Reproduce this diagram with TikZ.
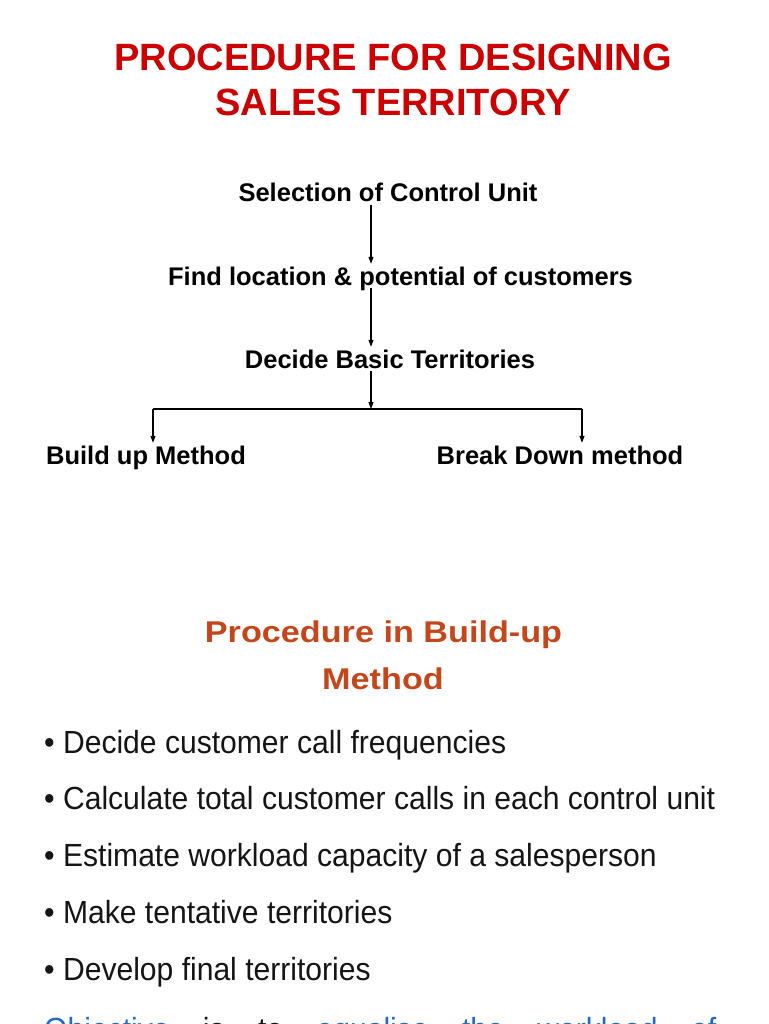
\documentclass[tikz,border=0pt]{standalone}
\usepackage{fontspec}
\setmainfont{Liberation Sans}
\newfontfamily\headfont{Liberation Sans}[FakeStretch=1.14]
\newfontfamily\listfont{Liberation Sans}[FakeStretch=0.94]
\usetikzlibrary{arrows.meta, positioning}
\definecolor{titlered}{HTML}{CC0000}
\definecolor{headorange}{HTML}{C4461B}
\definecolor{objblue}{HTML}{2468C4}
\definecolor{listgray}{HTML}{151515}

\begin{document}
\begin{tikzpicture}[
		x=1pt, y=-1pt,
		>={Triangle[length=7pt, width=5pt]},
		title/.style={anchor=base, inner sep=0pt, text=titlered,
			font=\fontsize{38}{45}\selectfont\bfseries},
		flow/.style={anchor=base, inner sep=3pt, text height=18pt, text depth=0pt,
			font=\fontsize{25.5}{30}\selectfont\bfseries},
		head/.style={anchor=base, inner sep=0pt, text=headorange,
			font=\headfont\fontsize{30}{36}\selectfont\bfseries},
		item/.style={anchor=base west, inner sep=0pt, text=listgray,
			font=\listfont\fontsize{32}{38}\selectfont},
		link/.style={->, line width=1.1pt}
		]

		\useasboundingbox (0,0) rectangle (768,1024);
		\clip (0,0) rectangle (768,1024);

		\node[title] (title1) at (393,71) {PROCEDURE FOR DESIGNING};
		\node[title] (title2) at (393,116) {SALES TERRITORY};

		\node[flow] (sel) at (388,202) {Selection of Control Unit};
		\node[flow] (find) at (400.5,285) {Find location \& potential of customers};
		\node[flow] (decide) at (390,368) {Decide Basic Territories};
		\node[flow] (build) at (146,464) {Build up Method};
		\node[flow] (brk) at (560,464) {Break Down method};

		\coordinate (spine) at (371,409);
		\coordinate (lft) at (153,409);
		\coordinate (rgt) at (582,409);

		\foreach \a/\b in {sel/find, decide/spine} {
			\draw[link] (\a.south -| spine) -- (\b.north -| spine);
		}
		\draw[link] (find.south -| spine) -- (decide.north -| spine);
		\draw[line width=1.1pt] (lft) -- (rgt);
		\draw[link] (lft) -- (lft |- build.north);
		\draw[link] (rgt) -- (rgt |- brk.north);

		\node[head] (head1) at (383.5,642) {Procedure in Build-up};
		\node[head] (head2) at (383,689) {Method};

		\foreach \txt [count=\k] in {Decide customer call frequencies,
			Calculate total customer calls in each control unit,
			Estimate workload capacity of a salesperson,
			Make tentative territories,
			Develop final territories} {
			\node[item] (bul\k) at (44,{753+56.75*(\k-1)}) {• \txt};
		}

		\node[item] (goal) at (44,1040) {\makebox[672pt][s]{\textcolor{objblue}{Objective} is to
			\textcolor{objblue}{equalise} \textcolor{objblue}{the} \textcolor{objblue}{workload}
			\textcolor{objblue}{of}}};

	\end{tikzpicture}
\end{document}
